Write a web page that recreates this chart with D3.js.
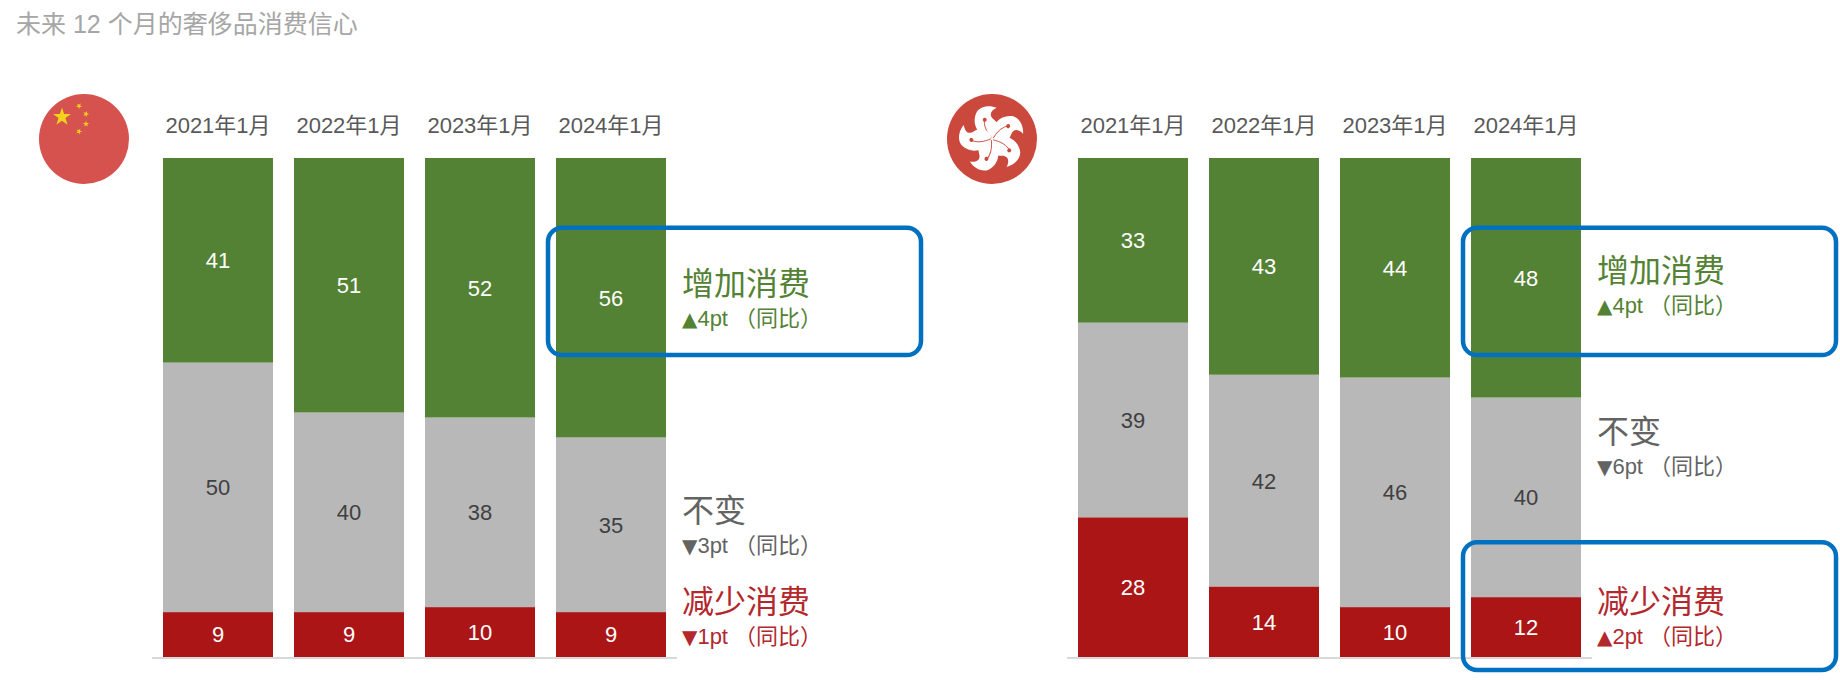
<!DOCTYPE html>
<html><head><meta charset="utf-8">
<script src="https://cdn.jsdelivr.net/npm/d3@7/dist/d3.min.js"></script>
<style>
html,body{margin:0;padding:0;background:#fff;}
svg{display:block;font-family:"Liberation Sans",Arial,"Noto Sans CJK SC",sans-serif;}
</style></head>
<body>
<svg id="chart" width="1840" height="680"></svg>
<script>
// ---- data ----
const title = "未来 12 个月的奢侈品消费信心";
const years = ["2021年1月","2022年1月","2023年1月","2024年1月"];
const seriesNames = ["减少消费","不变","增加消费"];
const chinaDecrease = [9, 9, 10, 9];
const chinaSame     = [50, 40, 38, 35];
const chinaIncrease = [41, 51, 52, 56];
const hkDecrease = [28, 14, 10, 12];
const hkSame     = [39, 42, 46, 40];
const hkIncrease = [33, 43, 44, 48];
const chinaChanges = ["▼1pt （同比）","▼3pt （同比）","▲4pt （同比）"];
const hkChanges    = ["▲2pt （同比）","▼6pt （同比）","▲4pt （同比）"];
// annotation anchor levels (in % units on the bar scale)
const chinaNoteLevels = [7.6, 25.9, 71.3];
const hkNoteLevels    = [7.6, 41.7, 73.9];
// highlight boxes: [series index] per panel
const chinaBoxes = [2];
const hkBoxes = [2, 0];

// ---- styles ----
const colors = ["#ab1516", "#b8b8b8", "#548235"];
const labelColors = ["#ffffff", "#404040", "#ffffff"];
const noteColors = ["#b3282d", "#636363", "#548235"];
const cjk = '"Liberation Sans",Arial,"Noto Sans CJK SC",sans-serif';

const svg = d3.select("#chart");

svg.append("text").attr("x", 16).attr("y", 33)
  .attr("font-size", 25).attr("fill", "#a6a6a6").text(title);

const y = d3.scaleLinear().domain([0, 100]).range([657, 158]);

const panels = [
  {dec: chinaDecrease, same: chinaSame, inc: chinaIncrease, changes: chinaChanges,
   levels: chinaNoteLevels, boxes: chinaBoxes, x0: 163, flag: "cn", flagCx: 84},
  {dec: hkDecrease, same: hkSame, inc: hkIncrease, changes: hkChanges,
   levels: hkNoteLevels, boxes: hkBoxes, x0: 1078, flag: "hk", flagCx: 992}
];

const boxLevels = [[-2.6, 23], [0, 0], [60.5, 86]];

panels.forEach(p => {
  const x = d3.scaleBand().domain(years).range([p.x0, p.x0 + 503]).paddingInner(21/131).paddingOuter(0);
  const g = svg.append("g");
  const rows = years.map((yr, i) => ({year: yr, v: [p.dec[i], p.same[i], p.inc[i]]}));
  const stack = d3.stack().keys([0,1,2]).value((d, k) => d.v[k] / d3.sum(d.v) * 100);
  const stacked = stack(rows);

  // baseline
  g.append("line").attr("x1", x(years[0]) - 11).attr("x2", x(years[3]) + x.bandwidth() + 11)
    .attr("y1", y(0) + 1).attr("y2", y(0) + 1).attr("stroke", "#d9d9d9").attr("stroke-width", 2);

  stacked.forEach((layer, k) => {
    g.selectAll(null).data(layer).enter().append("rect")
      .attr("x", d => x(d.data.year)).attr("width", x.bandwidth())
      .attr("y", d => y(d[1])).attr("height", d => y(d[0]) - y(d[1]))
      .attr("fill", colors[k]);
    g.selectAll(null).data(layer).enter().append("text")
      .attr("x", d => x(d.data.year) + x.bandwidth()/2)
      .attr("y", d => (y(d[0]) + y(d[1]))/2)
      .attr("dy", "0.36em").attr("text-anchor", "middle")
      .attr("font-size", 22).attr("fill", labelColors[k])
      .text(d => d.data.v[k]);
  });

  // year labels
  g.selectAll(null).data(years).enter().append("text")
    .attr("x", d => x(d) + x.bandwidth()/2).attr("y", 133)
    .attr("text-anchor", "middle").attr("font-size", 22).attr("fill", "#595959")
    .text(d => d);

  // annotations
  const nx = x(years[3]) + x.bandwidth() + 16;
  seriesNames.forEach((name, k) => {
    const cy = y(p.levels[k]);
    g.append("text").attr("x", nx).attr("y", cy - 6).attr("font-size", 32)
      .attr("fill", noteColors[k]).style("font-family", cjk).text(name);
    const t = g.append("text").attr("x", nx).attr("y", cy + 25).attr("font-size", 22)
      .attr("fill", noteColors[k]);
    const s = p.changes[k];
    t.append("tspan").style("font-family", '"DejaVu Sans",sans-serif').attr("font-size", 20).text(s.slice(0, 1));
    t.append("tspan").text(s.slice(1));
  });

  // highlight boxes
  p.boxes.forEach(k => {
    const bx = x(years[3]) - 8;
    g.append("rect").attr("x", bx).attr("width", 373)
      .attr("y", y(boxLevels[k][1])).attr("height", y(boxLevels[k][0]) - y(boxLevels[k][1]))
      .attr("rx", 14).attr("fill", "none").attr("stroke", "#0070c0").attr("stroke-width", 4.5);
  });

  // flag
  const fg = svg.append("g").attr("transform", `translate(${p.flagCx},139)`);
  if (p.flag === "cn") {
    fg.append("circle").attr("r", 45).attr("fill", "#d6524e");
    const star = (cx, cy, r, rot) => {
      const pts = d3.range(10).map(i => {
        const a = -Math.PI/2 + i*Math.PI/5 + rot;
        const rr = i % 2 ? r*0.382 : r;
        return [cx + rr*Math.cos(a), cy + rr*Math.sin(a)];
      });
      fg.append("path").attr("d", d3.line()(pts) + "Z").attr("fill", "#f2d21a");
    };
    star(-22, -22, 9.5, 0);
    star(-5, -33, 3.2, 0.6);
    star(2, -25, 3.2, 0.3);
    star(2, -15, 3.2, 0);
    star(-5, -7.5, 3.2, 0.4);
  } else {
    fg.append("circle").attr("r", 45).attr("fill", "#cb483c");
    for (let i = 0; i < 5; i++) {
      const pg = fg.append("g").attr("transform", `rotate(${i*72 - 8}) scale(1.12)`);
      pg.append("path")
        .attr("d", "M0,0 C-12,-4 -17,-16 -10,-26 C-5,-31 3,-30 8,-27 C2,-25 0,-21 4,-17 C10,-11 7,-3 0,0 Z")
        .attr("fill", "#ffffff");
      pg.append("path").attr("d", "M0,-1 C-4,-7 -6,-13 -4,-19")
        .attr("fill", "none").attr("stroke", "#cb483c").attr("stroke-width", 0.8);
      pg.append("circle").attr("cx", -4).attr("cy", -18).attr("r", 1.8).attr("fill", "#cb483c");
    }
  }
});
</script>
</body></html>
